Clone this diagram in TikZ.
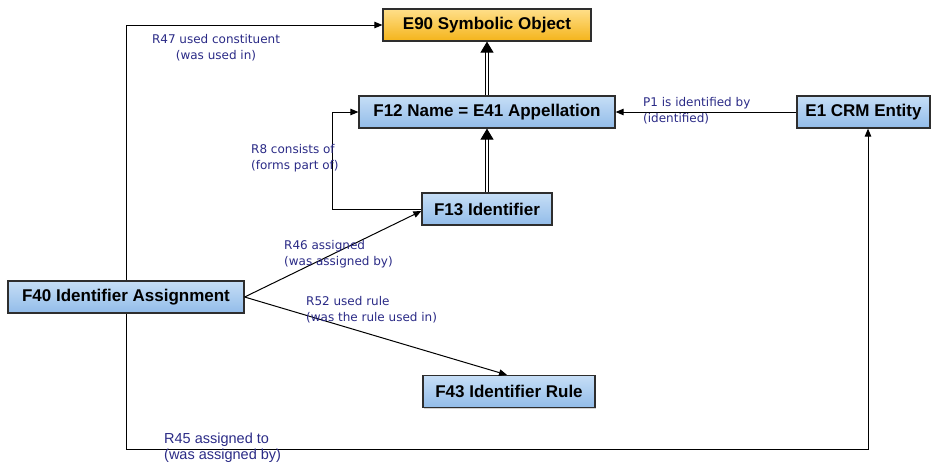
\documentclass[tikz,border=0pt]{standalone}
\usepackage{fontspec}
\setmainfont{Liberation Sans}
\newfontfamily\labelfont{DejaVu Sans}
\usetikzlibrary{arrows.meta,shadows}
\definecolor{boxline}{HTML}{2E2E2E}
\definecolor{labelblue}{HTML}{2A2A86}
\definecolor{bluetop}{HTML}{C6DEF6}
\definecolor{bluemid}{HTML}{E6F1FC}
\definecolor{bluebot}{HTML}{92BCE9}
\definecolor{orangetop}{HTML}{FFDF8A}
\definecolor{orangemid}{HTML}{FFF2C4}
\definecolor{orangebot}{HTML}{F4B41A}
\tikzset{
  entity/.style={draw=boxline, line width=1.2pt, top color=bluetop, middle color=bluemid,
    bottom color=bluebot, minimum height=32pt, inner sep=0pt,
    font=\bfseries\fontsize{17}{19}\selectfont,
    drop shadow={opacity=0.35, shadow xshift=1.2pt, shadow yshift=-1.2pt}},
  symbolic/.style={entity, top color=orangetop, middle color=orangemid, bottom color=orangebot},
  prop/.style={line width=1pt, -{Triangle[length=8pt,width=6.5pt]}},
  isa/.style={double, double distance=2pt, line width=0.9pt, -{Triangle[length=11pt,width=13pt]}},
  lbl/.style={font=\labelfont\fontsize{12}{16}\selectfont, text=labelblue, inner sep=0pt,
    align=left, anchor=north west},
}
\begin{document}
\begin{tikzpicture}[x=1pt, y=-1pt]
\useasboundingbox (0,0) rectangle (932,469);
\node[symbolic, minimum width=208pt] (E90) at (487,25) {E90 Symbolic Object};
\node[entity, minimum width=256pt] (F12) at (487,112) {F12 Name = E41 Appellation};
\node[entity, minimum width=133pt] (E1) at (863.5,112) {E1 CRM Entity};
\node[entity, minimum width=130pt] (F13) at (487,209) {F13 Identifier};
\node[entity, minimum width=236pt] (F40) at (126,297) {F40 Identifier Assignment};
\node[entity, minimum width=172pt] (F43) at (509,391.5) {F43 Identifier Rule};

\draw[isa] (F12.north) -- (E90.south);
\draw[isa] (F13.north) -- (F12.south);
\draw[prop] (F40.north) |- (E90.west);
\draw[prop] (F13.west) -- ++(-89,0) |- (F12.west);
\draw[prop] (E1.west) -- (F12.east);
\draw[prop] (F40.east) -- ([yshift=-2pt]F13.west);
\draw[prop] (F40.east) -- ([xshift=-2pt]F43.north);
\draw[prop] (F40.south) -- ++(0,136) -| ([xshift=4.5pt]E1.south);

\node[lbl, align=center, anchor=north] (lR47) at (216,34) {R47 used constituent\\(was used in)};
\node[lbl] (lR8) at (251,144) {R8 consists of\\(forms part of)};
\node[lbl] (lP1) at (643,97) {P1 is identified by\\(identified)};
\node[lbl] (lR46) at (284,240) {R46 assigned\\(was assigned by)};
\node[lbl] (lR52) at (306,296) {R52 used rule\\(was the rule used in)};
\node[lbl, font=\fontsize{14.5}{16}\selectfont] (lR45) at (164,433) {R45 assigned to\\(was assigned by)};
\end{tikzpicture}
\end{document}
